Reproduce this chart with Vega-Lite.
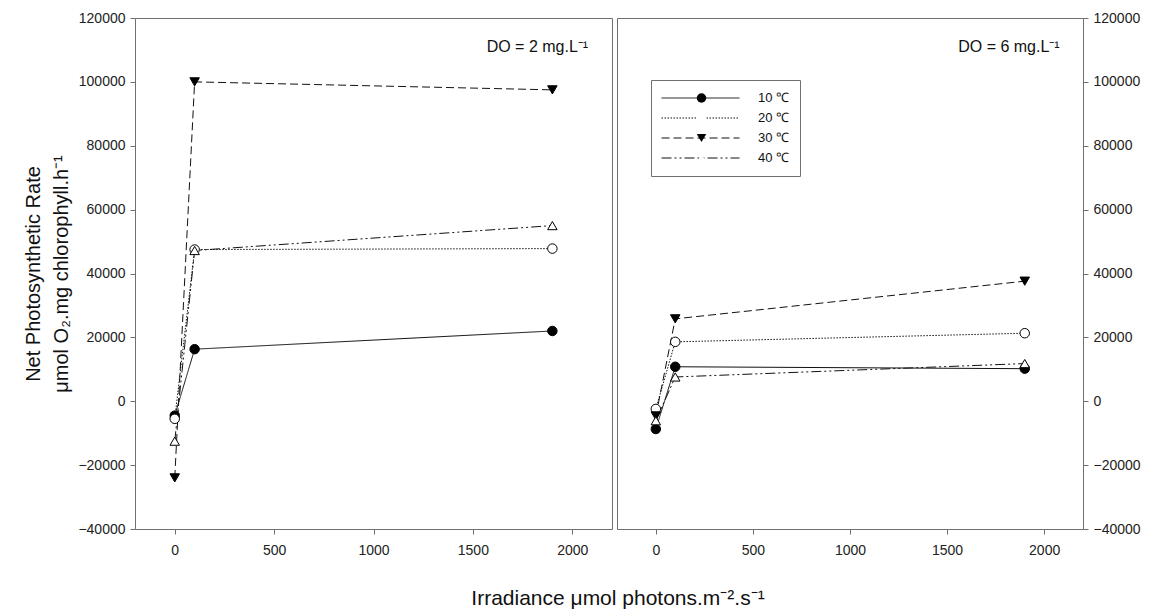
{
  "$schema": "https://vega.github.io/schema/vega-lite/v6.json",
  "background": "white",
  "padding": {"left": 23, "top": 10, "right": 5, "bottom": 0},
  "spacing": 3,
  "config": {
    "font": "Liberation Sans",
    "view": {"stroke": "#707070", "strokeWidth": 1},
    "axis": {
      "domain": false,
      "grid": false,
      "ticks": true,
      "tickColor": "#707070",
      "tickSize": 5,
      "labelFont": "Liberation Sans",
      "labelFontSize": 14,
      "labelColor": "#222222",
      "labelPadding": 5,
      "titleFont": "Liberation Sans",
      "titleFontWeight": "normal",
      "titleColor": "#111111"
    },
    "axisX": {"labelPadding": 9},
    "legend": {
      "orient": "none",
      "legendY": 62,
      "title": null,
      "padding": 10,
      "clipHeight": 16,
      "rowPadding": 4,
      "labelOffset": 18,
      "labelFontSize": 13,
      "labelFont": "Liberation Sans"
    }
  },
  "title": {
    "text": "Irradiance μmol photons.m⁻².s⁻¹",
    "orient": "bottom",
    "anchor": "middle",
    "fontSize": 21,
    "fontWeight": "normal",
    "font": "Liberation Sans",
    "color": "#111111",
    "offset": 30,
    "dx": 36
  },
  "datasets": {
    "d": [
      {"panel": "DO2", "T": "10 ℃", "x": 0, "y": -4500},
      {"panel": "DO2", "T": "10 ℃", "x": 100, "y": 16300},
      {"panel": "DO2", "T": "10 ℃", "x": 1900, "y": 22000},
      {"panel": "DO2", "T": "20 ℃", "x": 0, "y": -5500},
      {"panel": "DO2", "T": "20 ℃", "x": 100, "y": 47500},
      {"panel": "DO2", "T": "20 ℃", "x": 1900, "y": 47800},
      {"panel": "DO2", "T": "30 ℃", "x": 0, "y": -24000},
      {"panel": "DO2", "T": "30 ℃", "x": 100, "y": 100000},
      {"panel": "DO2", "T": "30 ℃", "x": 1900, "y": 97500},
      {"panel": "DO2", "T": "40 ℃", "x": 0, "y": -12500},
      {"panel": "DO2", "T": "40 ℃", "x": 100, "y": 47200},
      {"panel": "DO2", "T": "40 ℃", "x": 1900, "y": 55000},
      {"panel": "DO6", "T": "10 ℃", "x": 0, "y": -8700},
      {"panel": "DO6", "T": "10 ℃", "x": 100, "y": 10800},
      {"panel": "DO6", "T": "10 ℃", "x": 1900, "y": 10200},
      {"panel": "DO6", "T": "20 ℃", "x": 0, "y": -2400},
      {"panel": "DO6", "T": "20 ℃", "x": 100, "y": 18600},
      {"panel": "DO6", "T": "20 ℃", "x": 1900, "y": 21300},
      {"panel": "DO6", "T": "30 ℃", "x": 0, "y": -4600},
      {"panel": "DO6", "T": "30 ℃", "x": 100, "y": 25800},
      {"panel": "DO6", "T": "30 ℃", "x": 1900, "y": 37600},
      {"panel": "DO6", "T": "40 ℃", "x": 0, "y": -6100},
      {"panel": "DO6", "T": "40 ℃", "x": 100, "y": 7600},
      {"panel": "DO6", "T": "40 ℃", "x": 1900, "y": 11800}
    ],
    "ann2": [{"label": "DO = 2 mg.L⁻¹", "x": 2080, "y": 111000}],
    "ann6": [{"label": "DO = 6 mg.L⁻¹", "x": 2080, "y": 111000}]
  },
  "resolve": {
    "scale": {"shape": "independent", "fill": "independent", "strokeDash": "independent"},
    "legend": {"shape": "independent", "fill": "independent", "strokeDash": "independent"}
  },
  "hconcat": [
    {
      "width": 477,
      "height": 511,
      "layer": [
        {
          "data": {"name": "d"},
          "transform": [{"filter": "datum.panel == 'DO2'"}],
          "mark": {"type": "line", "color": "#111111", "strokeWidth": 1},
          "encoding": {
            "x": {
              "field": "x", "type": "quantitative",
              "scale": {"domain": [-200, 2200], "nice": false, "zero": false},
              "axis": {"values": [0, 500, 1000, 1500, 2000], "format": "d", "title": null}
            },
            "y": {
              "field": "y", "type": "quantitative",
              "scale": {"domain": [-40000, 120000], "nice": false},
              "axis": {
                "values": [-40000, -20000, 0, 20000, 40000, 60000, 80000, 100000, 120000],
                "format": "d",
                "title": ["Net Photosynthetic Rate", "μmol O₂.mg chlorophyll.h⁻¹"],
                "titleFontSize": 20,
                "titleLineHeight": 28,
                "titlePadding": 6
              }
            },
            "strokeDash": {
              "field": "T", "type": "nominal",
              "scale": {"domain": ["10 ℃", "20 ℃", "30 ℃", "40 ℃"], "range": [[1, 0], [1.5, 1.5], [8, 4], [10, 3, 2, 3, 2, 3]]},
              "legend": null
            }
          }
        },
        {
          "data": {"name": "d"},
          "transform": [{"filter": "datum.panel == 'DO2'"}],
          "mark": {"type": "point", "filled": true, "stroke": "#000000", "strokeWidth": 1, "opacity": 1, "size": 90},
          "encoding": {
            "x": {"field": "x", "type": "quantitative"},
            "y": {"field": "y", "type": "quantitative"},
            "shape": {
              "field": "T", "type": "nominal",
              "scale": {"domain": ["10 ℃", "20 ℃", "30 ℃", "40 ℃"], "range": ["circle", "circle", "triangle-down", "triangle-up"]},
              "legend": null
            },
            "fill": {
              "field": "T", "type": "nominal",
              "scale": {"domain": ["10 ℃", "20 ℃", "30 ℃", "40 ℃"], "range": ["#000000", "#ffffff", "#000000", "#ffffff"]},
              "legend": null
            }
          }
        },
        {
          "data": {"name": "ann2"},
          "mark": {"type": "text", "align": "right", "baseline": "middle", "fontSize": 16, "font": "Liberation Sans", "color": "#111111"},
          "encoding": {
            "x": {"field": "x", "type": "quantitative"},
            "y": {"field": "y", "type": "quantitative"},
            "text": {"field": "label"}
          }
        }
      ]
    },
    {
      "width": 466,
      "height": 511,
      "layer": [
        {
          "data": {"name": "d"},
          "transform": [{"filter": "datum.panel == 'DO6'"}],
          "mark": {"type": "line", "color": "#111111", "strokeWidth": 1},
          "encoding": {
            "x": {
              "field": "x", "type": "quantitative",
              "scale": {"domain": [-200, 2200], "nice": false, "zero": false},
              "axis": {"values": [0, 500, 1000, 1500, 2000], "format": "d", "title": null}
            },
            "y": {
              "field": "y", "type": "quantitative",
              "scale": {"domain": [-40000, 120000], "nice": false},
              "axis": {
                "orient": "right",
                "values": [-40000, -20000, 0, 20000, 40000, 60000, 80000, 100000, 120000],
                "format": "d",
                "title": null
              }
            },
            "strokeDash": {
              "field": "T", "type": "nominal",
              "scale": {"domain": ["10 ℃", "20 ℃", "30 ℃", "40 ℃"], "range": [[1, 0], [1.5, 1.5], [8, 4], [10, 3, 2, 3, 2, 3]]},
              "legend": {
                "legendX": 34,
                "symbolType": "stroke",
                "symbolSize": 6084,
                "symbolStrokeWidth": 1,
                "strokeColor": "#707070",
                "fillColor": "#ffffff",
                "labelColor": "#111111"
              }
            }
          }
        },
        {
          "data": {"name": "d"},
          "transform": [{"filter": "datum.panel == 'DO6'"}],
          "mark": {"type": "point", "filled": true, "stroke": "#000000", "strokeWidth": 1, "opacity": 1, "size": 90},
          "encoding": {
            "x": {"field": "x", "type": "quantitative"},
            "y": {"field": "y", "type": "quantitative"},
            "shape": {
              "field": "T", "type": "nominal",
              "scale": {"range": ["circle", "circle", "triangle-down", "triangle-up"]},
              "legend": {
                "legendX": 68,
                "symbolSize": 90,
                "symbolStrokeWidth": 1,
                "symbolStrokeColor": "#000000",
                "labelColor": "rgba(0,0,0,0)",
                "labelOpacity": 0,
                "strokeColor": "rgba(0,0,0,0)",
                "fillColor": "rgba(0,0,0,0)",
                "encode": {
                  "symbols": {
                    "stroke": {"value": "#000000"},
                    "strokeWidth": {"value": 1},
                    "opacity": {"value": 1}
                  }
                }
              }
            },
            "fill": {
              "field": "T", "type": "nominal",
              "scale": {"range": ["#000000", "#ffffff", "#000000", "#ffffff"]},
              "legend": {
                "legendX": 68,
                "symbolSize": 90,
                "symbolStrokeWidth": 1,
                "symbolStrokeColor": "#000000",
                "labelColor": "rgba(0,0,0,0)",
                "labelOpacity": 0,
                "strokeColor": "rgba(0,0,0,0)",
                "fillColor": "rgba(0,0,0,0)",
                "encode": {
                  "symbols": {
                    "stroke": {"value": "#000000"},
                    "strokeWidth": {"value": 1},
                    "opacity": {"value": 1}
                  }
                }
              }
            }
          }
        },
        {
          "data": {"name": "ann6"},
          "mark": {"type": "text", "align": "right", "baseline": "middle", "fontSize": 16, "font": "Liberation Sans", "color": "#111111"},
          "encoding": {
            "x": {"field": "x", "type": "quantitative"},
            "y": {"field": "y", "type": "quantitative"},
            "text": {"field": "label"}
          }
        }
      ]
    }
  ]
}
